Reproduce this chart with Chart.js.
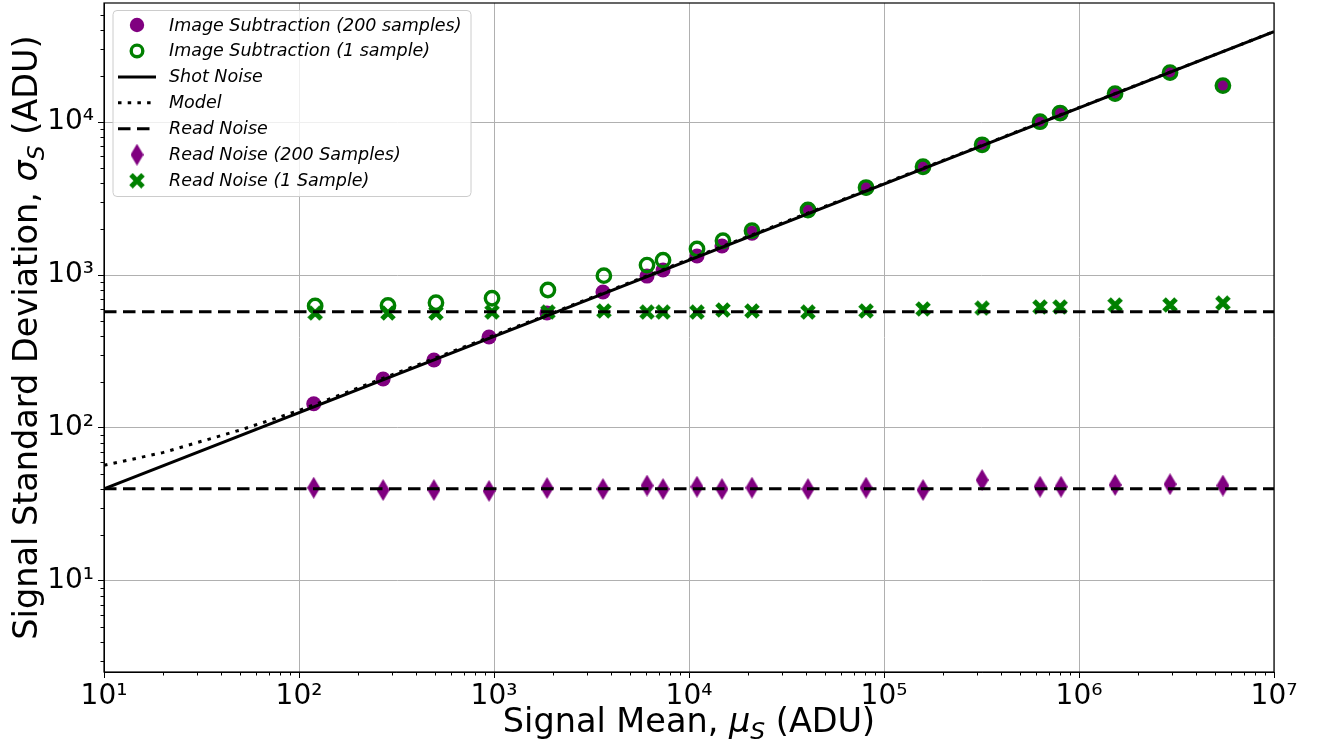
<!DOCTYPE html>
<html>
<head>
<meta charset="utf-8">
<script src="https://cdn.jsdelivr.net/npm/chart.js@4/dist/chart.umd.min.js"></script>
<style>
  html, body { margin: 0; padding: 0; background: #fff; }
  canvas { display: block; }
</style>
</head>
<body>
<canvas id="noiseChart" width="1321" height="742"></canvas>
<script>
// signal mean (x) for the 200-sample and 1-sample measurements
const meanMulti = [119, 270, 492, 943, 1870, 3620, 6090, 7360, 10990, 14760, 21040, 40740, 80900, 158500, 318500, 631000, 809000, 1531000, 2930000, 5470000];
const meanSingle = [121, 286, 504, 977, 1890, 3660, 6090, 7360, 10990, 14930, 21040, 40740, 80900, 158500, 318500, 631000, 800000, 1531000, 2930000, 5470000];

// image subtraction std dev
const sigmaMulti = [144, 209, 278, 393, 565, 774, 984, 1079, 1330, 1549, 1873, 2640, 3706, 5080, 7080, 10000, 11400, 15300, 21000, 17250];
const sigmaSingle = [627, 632, 659, 705, 798, 990, 1161, 1250, 1479, 1675, 1950, 2660, 3730, 5100, 7100, 10050, 11450, 15350, 21050, 17300];

// read noise measurements
const readMulti = [40.7, 39.3, 39.3, 38.8, 40.5, 39.9, 42.0, 39.9, 41.3, 39.9, 40.7, 39.9, 40.7, 39.3, 45.7, 41.3, 41.3, 42.4, 42.9, 42.0];
const readSingle = [565, 565, 565, 573, 573, 582, 573, 573, 573, 591, 582, 573, 582, 600, 608, 618, 618, 637, 637, 656];

// reference curves
const shotX = [10, 1e7];
const shotY = [40, 39000];
const modelX = [10, 20, 50, 100, 200, 500, 1000, 2000, 10000, 1e7];
const modelY = [57, 69, 97, 130, 182, 286, 403, 566, 1265, 39000];
const readLevels = [575, 40];
const spanX = [10, 1e7];

// axes
const xTickVals = [10, 100, 1000, 1e4, 1e5, 1e6, 1e7];
const xTickLabels = ['10¹', '10²', '10³', '10⁴', '10⁵', '10⁶', '10⁷'];
const yTickVals = [10, 100, 1000, 1e4];
const yTickLabels = ['10¹', '10²', '10³', '10⁴'];

const PURPLE = '#800080';
const GREEN = '#008000';
const FONT = "'DejaVu Sans', sans-serif";
const PLOT_TOP = 3;

function pts(xs, ys) {
    return xs.map((x, i) => ({ x: x, y: ys[i] }));
}

// thin diamond marker
function makeDiamond() {
    const c = document.createElement('canvas');
    c.width = 13; c.height = 22;
    const g = c.getContext('2d');
    g.fillStyle = PURPLE;
    g.beginPath();
    g.moveTo(6.5, 0); g.lineTo(13, 11); g.lineTo(6.5, 22); g.lineTo(0, 11);
    g.closePath();
    g.fill();
    return c;
}

// filled X marker
function makeCross() {
    const c = document.createElement('canvas');
    c.width = 16; c.height = 16;
    const g = c.getContext('2d');
    g.strokeStyle = GREEN;
    g.lineWidth = 5;
    g.lineCap = 'butt';
    g.beginPath();
    g.moveTo(2, 2); g.lineTo(14, 14);
    g.moveTo(14, 2); g.lineTo(2, 14);
    g.stroke();
    return c;
}

const diamondImg = makeDiamond();
const crossImg = makeCross();

const lineBase = {
    showLine: true,
    pointRadius: 0,
    borderColor: '#000',
    borderWidth: 3,
    fill: false,
    order: 0
};

const datasets = [
    {
        label: 'Image Subtraction (200 samples)',
        data: pts(meanMulti, sigmaMulti),
        pointStyle: 'circle',
        pointRadius: 7.5,
        pointBorderWidth: 0,
        backgroundColor: PURPLE,
        borderColor: PURPLE,
        order: 4,
        legendKind: 'dot'
    },
    {
        label: 'Image Subtraction (1 sample)',
        data: pts(meanSingle, sigmaSingle),
        pointStyle: 'circle',
        pointRadius: 6.7,
        pointBorderWidth: 3.4,
        backgroundColor: 'rgba(0,0,0,0)',
        borderColor: GREEN,
        order: 2,
        legendKind: 'ring'
    },
    Object.assign({}, lineBase, {
        label: 'Shot Noise',
        data: pts(shotX, shotY),
        legendKind: 'solid'
    }),
    Object.assign({}, lineBase, {
        label: 'Model',
        data: pts(modelX, modelY),
        borderDash: [3.5, 6.2],
        legendKind: 'dotted'
    }),
    Object.assign({}, lineBase, {
        label: 'Read Noise',
        data: pts(spanX, [readLevels[0], readLevels[0]]),
        borderDash: [12.5, 6.5],
        legendKind: 'dashed'
    }),
    Object.assign({}, lineBase, {
        label: 'Read Noise',
        data: pts(spanX, [readLevels[1], readLevels[1]]),
        borderDash: [12.5, 6.5],
        legendKind: null
    }),
    {
        label: 'Read Noise (200 Samples)',
        data: pts(meanMulti, readMulti),
        pointStyle: diamondImg,
        pointRadius: 7,
        backgroundColor: PURPLE,
        borderColor: PURPLE,
        order: 4,
        legendKind: 'diamond'
    },
    {
        label: 'Read Noise (1 Sample)',
        data: pts(meanSingle, readSingle),
        pointStyle: crossImg,
        pointRadius: 7,
        backgroundColor: GREEN,
        borderColor: GREEN,
        order: 3,
        legendKind: 'cross'
    }
];

// minor ticks, frame, axis titles and legend
const decorPlugin = {
    id: 'decor',
    afterLayout(chart) {
        // pin the top of the plot area to the frame position of the original
        const ys = chart.scales.y;
        const shift = chart.chartArea.top - PLOT_TOP;
        if (shift !== 0) {
            chart.chartArea.top = PLOT_TOP;
            chart.chartArea.height += shift;
            ys.top = PLOT_TOP;
            ys.height += shift;
            ys.configure();
        }
    },
    afterDraw(chart) {
        const ctx = chart.ctx;
        const area = chart.chartArea;
        const xs = chart.scales.x, ys = chart.scales.y;

        ctx.save();
        // minor ticks
        ctx.strokeStyle = '#000';
        ctx.lineWidth = 1;
        ctx.beginPath();
        for (let d = 1; d <= 7; d++) {
            for (let m = 2; m <= 9; m++) {
                const v = m * Math.pow(10, d - 1);
                if (v > xs.min && v < xs.max) {
                    const px = Math.round(xs.getPixelForValue(v)) + 0.5;
                    ctx.moveTo(px, area.bottom); ctx.lineTo(px, area.bottom + 3.5);
                }
            }
        }
        for (let d = 0; d <= 5; d++) {
            for (let m = 1; m <= 9; m++) {
                const v = m * Math.pow(10, d);
                if (m === 1 && yTickVals.includes(v)) continue;
                if (v > ys.min && v < ys.max) {
                    const py = Math.round(ys.getPixelForValue(v)) + 0.5;
                    ctx.moveTo(area.left, py); ctx.lineTo(area.left - 3.5, py);
                }
            }
        }
        ctx.stroke();

        // frame
        ctx.lineWidth = 1.2;
        ctx.strokeStyle = '#000';
        ctx.strokeRect(area.left, area.top, area.right - area.left, area.bottom - area.top);

        // axis titles
        function titleParts(greek) {
            return [
                { t: 'Signal ' + (greek === 'μ' ? 'Mean, ' : 'Standard Deviation, '), f: '33.5px ' + FONT, dy: 0 },
                { t: greek, f: 'italic 33.5px ' + FONT, dy: 0 },
                { t: 'S', f: 'italic 23.5px ' + FONT, dy: 7 },
                { t: ' (ADU)', f: '33.5px ' + FONT, dy: 0 }
            ];
        }
        function drawParts(parts, cx, by) {
            let w = 0;
            parts.forEach(p => { ctx.font = p.f; p.w = ctx.measureText(p.t).width; w += p.w; });
            let x = cx - w / 2;
            ctx.fillStyle = '#000';
            ctx.textBaseline = 'alphabetic';
            ctx.textAlign = 'left';
            parts.forEach(p => { ctx.font = p.f; ctx.fillText(p.t, x, by + p.dy); x += p.w; });
        }
        drawParts(titleParts('μ'), (area.left + area.right) / 2, 732);
        ctx.save();
        ctx.translate(37, (area.top + area.bottom) / 2);
        ctx.rotate(-Math.PI / 2);
        drawParts(titleParts('σ'), 0, 0);
        ctx.restore();

        // legend
        const bx = 113, by = 10.5, bw = 358, bh = 186;
        ctx.beginPath();
        ctx.roundRect(bx, by, bw, bh, 4);
        ctx.fillStyle = 'rgba(255,255,255,0.8)';
        ctx.fill();
        ctx.strokeStyle = '#cccccc';
        ctx.lineWidth = 1;
        ctx.stroke();

        const entries = chart.data.datasets.filter(ds => ds.legendKind);
        entries.forEach((ds, i) => {
            const cy = 25 + i * 25.95;
            const mx = 137;
            ctx.save();
            switch (ds.legendKind) {
                case 'dot':
                    ctx.fillStyle = PURPLE;
                    ctx.beginPath(); ctx.arc(mx, cy, 7.2, 0, Math.PI * 2); ctx.fill();
                    break;
                case 'ring':
                    ctx.strokeStyle = GREEN; ctx.lineWidth = 3.4;
                    ctx.beginPath(); ctx.arc(mx, cy, 5.8, 0, Math.PI * 2); ctx.stroke();
                    break;
                case 'solid':
                case 'dotted':
                case 'dashed':
                    ctx.strokeStyle = '#000'; ctx.lineWidth = 3;
                    ctx.setLineDash(ds.borderDash || []);
                    ctx.beginPath(); ctx.moveTo(118, cy); ctx.lineTo(156, cy); ctx.stroke();
                    break;
                case 'diamond':
                    ctx.drawImage(diamondImg, mx - 6.5, cy - 11);
                    break;
                case 'cross':
                    ctx.drawImage(crossImg, mx - 8, cy - 8);
                    break;
            }
            ctx.restore();
            ctx.fillStyle = '#000';
            ctx.font = 'italic 17.5px ' + FONT;
            ctx.textAlign = 'left';
            ctx.textBaseline = 'middle';
            ctx.fillText(ds.label, 169, cy + 1);
        });
        ctx.restore();
    }
};

new Chart(document.getElementById('noiseChart'), {
    type: 'scatter',
    data: { datasets: datasets },
    options: {
        responsive: false,
        animation: false,
        layout: { padding: { top: 3, right: 47, left: 0, bottom: 0 } },
        plugins: {
            legend: { display: false },
            tooltip: { enabled: false }
        },
        scales: {
            x: {
                type: 'logarithmic',
                min: 10,
                max: 1e7,
                afterFit: s => { s.height = 70; s.paddingLeft = 0; s.paddingRight = 0; },
                afterBuildTicks: s => { s.ticks = xTickVals.map(v => ({ value: v })); },
                ticks: {
                    callback: (v, i) => xTickLabels[i],
                    font: { family: FONT, size: 28 },
                    color: '#000',
                    maxRotation: 0,
                    autoSkip: false,
                    padding: 2
                },
                grid: { color: '#b0b0b0', lineWidth: 1, tickLength: 6, tickColor: '#000' },
                border: { color: '#000', width: 1 }
            },
            y: {
                type: 'logarithmic',
                min: 2.54,
                max: 60000,
                afterFit: s => { s.width = 104; s.paddingTop = 0; s.paddingBottom = 0; },
                afterBuildTicks: s => { s.ticks = yTickVals.map(v => ({ value: v })); },
                ticks: {
                    callback: (v, i) => yTickLabels[i],
                    font: { family: FONT, size: 28 },
                    color: '#000',
                    autoSkip: false,
                    padding: 4
                },
                grid: { color: '#b0b0b0', lineWidth: 1, tickLength: 6, tickColor: '#000' },
                border: { color: '#000', width: 1 }
            }
        }
    },
    plugins: [decorPlugin]
});
</script>
</body>
</html>
